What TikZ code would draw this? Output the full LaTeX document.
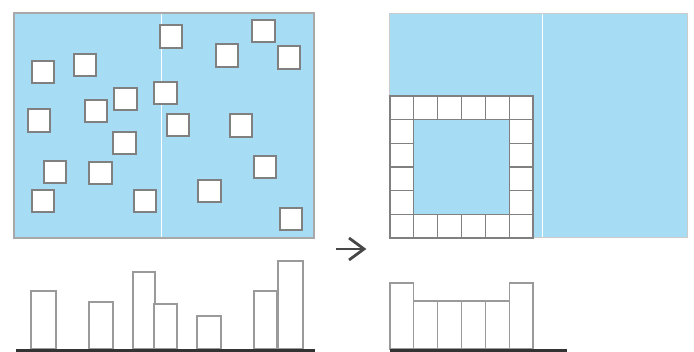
\documentclass[tikz,border=0pt]{standalone}
\begin{document}
\begin{tikzpicture}[x=1pt,y=-1pt,
  panelfill/.style={fill=skyb},
  chip/.style={draw=chipgray,fill=white,line width=1.6pt,minimum size=22.5pt,inner sep=0pt,outer sep=0pt},
  cell/.style={draw=chipgray,fill=white,line width=1.1pt},
  bar/.style={draw=bargray,fill=white,line width=1.2pt},
  base/.style={draw=basegray,line width=3pt},
  seam/.style={draw=white,line width=0.8pt}]
\definecolor{skyb}{HTML}{A6DDF5}
\definecolor{chipgray}{HTML}{808080}
\definecolor{bargray}{HTML}{9A9A9A}
\definecolor{basegray}{HTML}{333333}
\definecolor{framegray}{HTML}{A8A8A8}
\useasboundingbox (0,0) rectangle (694,352);
% left panel
\fill[white] (0,0) rectangle (694,352);
\draw[panelfill,draw=framegray,line width=2pt] (14,13) rectangle (314,238);
\draw[seam] (161,14) -- (161,237);
% squares
\foreach \i/\x/\y in {1/171/36.5,2/263.5/31,3/227/55.5,4/289/57.5,5/43/72,6/85/65,7/125.5/99,8/165.5/93,9/96/111,10/39/120.5,11/178/125,12/241/125.5,13/124.5/143,14/55/172,15/100.5/173,16/265/167,17/43/201,18/145/201,19/209.5/191,20/291/219}
  \node[chip] (s\i) at (\x,\y) {};
% right panel
\draw[panelfill,draw=framegray!60,line width=1pt] (389.5,13.5) rectangle (687,238);
\draw[seam] (542,14) -- (542,237);
\foreach \c in {0,...,5}{
  \draw[cell] ({390+\c*23.83},96) rectangle ++(23.83,23.67);
  \draw[cell] ({390+\c*23.83},{96+5*23.67}) rectangle ++(23.83,23.67);
}
\foreach \r in {1,...,4}{
  \draw[cell] (390,{96+\r*23.67}) rectangle ++(23.83,23.67);
  \draw[cell] ({390+5*23.83},{96+\r*23.67}) rectangle ++(23.83,23.67);
}
% arrow
\coordinate (atail) at (336,249);
\coordinate (ahead) at (364,249);
\draw[basegray!90,line width=2.8pt] (atail) -- (ahead);
\draw[basegray!90,line width=2.8pt,line join=miter] (349,238) -- (ahead) -- (349,260);
% left histogram
\foreach \a/\b/\t in {31/56/291,89/113/302,133/155/272,154/177/304,197/221/316,254/277/291,278/303/261}
  \draw[bar] (\a,349) rectangle (\b,\t);
\draw[base] (16,350.5) -- (315,350.5);
% right histogram
\foreach \c/\t in {0/283,1/301,2/301,3/301,4/301,5/283}
  \draw[bar] ({390+\c*23.83},349) rectangle ({390+(\c+1)*23.83},\t);
\draw[base] (390,350.5) -- (567,350.5);
\end{tikzpicture}
\end{document}
